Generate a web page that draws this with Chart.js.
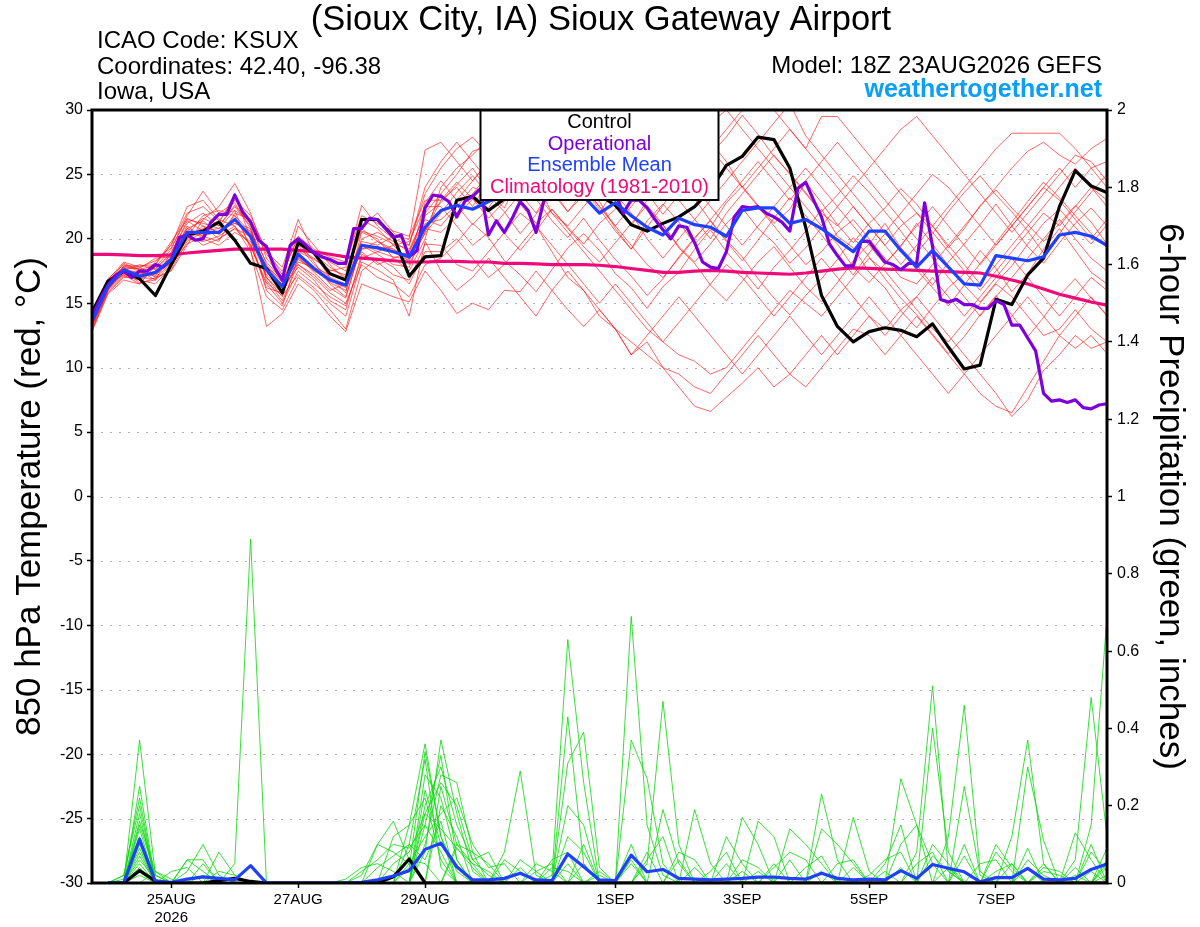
<!DOCTYPE html>
<html>
<head>
<meta charset="utf-8">
<script src="https://cdn.jsdelivr.net/npm/chart.js@4.4.1/dist/chart.umd.min.js"></script>
<style>
  html, body { margin: 0; padding: 0; background: #fff; }
  canvas { display: block; }
</style>
</head>
<body>
<canvas id="gefs" width="1200" height="927" style="width:1200px;height:927px"></canvas>
<script>
// hours after 18Z 23AUG2026; ensemble every 6 h, operational every 3 h
const tickHours = [30, 78, 126, 198, 246, 294, 342];
const tickLabels = [['25AUG', '2026'], '27AUG', '29AUG', '1SEP', '3SEP', '5SEP', '7SEP'];

// 850 hPa temperature (C), h0..h384 every 6 h
const ensMean = [13.6,16.3,17.6,17.1,17.4,18.4,20.5,20.5,20.5,21.5,20.2,17.6,16.3,18.8,17.7,16.8,16.4,19.5,19.3,19.0,18.6,20.9,
  22.2,22.6,22.3,22.9,23.4,23.6,23.8,23.6,23.4,23.3,22.0,22.8,21.8,20.9,20.3,21.6,21.1,20.9,20.2,22.2,22.4,22.4,21.2,21.5,
  20.8,19.9,19.0,20.6,20.6,19.1,17.8,19.1,17.8,16.5,16.4,18.7,18.5,18.3,18.6,20.3,20.5,20.2,19.5];
const control = [14.3,16.7,17.5,16.9,15.6,18.0,20.3,20.6,21.3,19.9,18.1,17.7,15.8,19.7,18.9,17.3,16.8,21.5,21.5,20.2,17.1,18.6,
  18.7,23.0,23.3,22.2,23.1,23.6,24.2,24.5,24.2,23.8,23.4,22.6,21.1,20.6,21.2,21.7,22.5,23.8,25.7,26.4,27.9,27.7,25.5,20.9,
  15.6,13.2,12.0,12.8,13.1,12.9,12.4,13.4,11.6,9.9,10.2,15.3,14.9,17.2,18.5,22.5,25.3,24.1,23.6];
const climatology = [18.8,18.8,18.75,18.7,18.7,18.75,18.9,19.0,19.1,19.2,19.2,19.2,19.2,19.1,19.0,18.8,18.6,18.5,18.4,18.3,18.2,18.2,
  18.25,18.25,18.2,18.2,18.1,18.1,18.05,18.0,18.0,18.0,17.95,17.85,17.7,17.55,17.4,17.4,17.5,17.55,17.5,17.4,17.35,17.3,
  17.25,17.35,17.5,17.65,17.75,17.7,17.65,17.6,17.55,17.5,17.45,17.4,17.35,17.1,16.8,16.5,16.1,15.7,15.4,15.1,14.85];
// operational GFS, h0..h384 every 3 h
const operational = [14.0,15.3,16.4,17.2,17.5,17.0,17.5,17.5, 18.0,17.8,18.4,20.1,20.3,19.9,20.0,21.3,
  21.9,21.9,23.4,22.1,21.3,19.9,19.4,17.8, 16.8,19.5,20.0,19.5,18.9,18.6,18.4,18.1,
  18.1,20.8,20.8,21.6,21.5,20.8,20.1,20.3, 18.6,19.1,22.4,23.4,23.3,22.9,21.7,22.9,
  23.3,23.9,20.3,21.4,20.5,21.6,22.9,22.2, 20.5,23.0,24.0,24.5,24.2,24.0,24.3,24.5,
  24.0,23.8,23.5,22.0,23.0,23.0,22.4,21.5, 20.7,20.0,21.0,20.9,19.7,18.2,17.8,17.7,
  19.0,21.7,22.5,22.4,22.5,22.0,21.7,21.3, 20.6,23.9,24.4,23.0,21.7,19.6,18.7,17.9,
  17.9,19.8,19.8,19.0,18.2,18.0,17.6,18.1, 18.1,22.8,19.4,15.3,15.1,15.3,14.9,14.9,
  14.6,14.6,15.2,14.9,13.3,13.3,12.3,11.3, 8.0,7.4,7.5,7.3,7.5,6.9,6.8,7.1, 7.2];
// ensemble members, h0..h384 every 6 h
const tempMembers = [
  [13.2,16.0,17.9,17.5,16.8,19.0,21.2,22.0,21.0,22.5,21.0,17.0,15.5,19.5,18.0,17.0,15.8,20.5,20.0,18.5,17.5,20.0,
   24.0,25.5,26.5,27.8,26.0,25.0,27.0,26.2,24.5,23.5,22.0,24.0,25.5,26.8,28.5,30.5,29.0,27.5,26.0,24.0,22.5,21.0,19.5,18.0,19.0,20.5,21.5,20.0,18.5,17.0,16.5,18.0,19.5,21.0,22.5,24.0,25.5,26.8,27.5,26.5,25.8,27.0,27.8],
  [13.8,16.5,17.2,16.5,17.9,18.0,20.0,19.8,20.2,21.0,19.5,16.5,15.0,17.5,16.5,15.5,14.8,18.5,19.0,19.5,19.8,22.5,
   22.5,21.0,19.5,20.5,22.0,23.5,24.5,22.0,20.5,19.0,17.5,16.0,14.5,13.0,12.0,11.0,10.5,9.5,10.0,11.5,13.0,14.5,16.0,15.0,14.0,15.5,17.0,18.5,17.5,16.0,14.5,13.0,12.0,13.5,15.0,16.5,15.5,14.0,12.5,13.0,14.5,13.0,12.0],
  [14.2,16.8,18.2,17.8,17.0,17.5,19.5,21.5,22.5,24.3,22.0,18.5,17.0,18.0,17.2,16.0,16.5,19.0,18.0,18.5,19.0,21.5,
   21.0,22.5,24.0,23.5,25.0,26.0,24.5,23.0,25.5,27.0,25.0,23.5,22.0,20.0,18.5,20.0,21.5,23.0,24.5,26.0,27.5,29.0,30.5,28.0,26.5,25.0,23.5,22.0,20.5,22.0,23.5,25.0,24.0,22.5,21.0,19.5,21.0,22.5,24.0,23.0,21.5,20.0,21.5],
  [12.9,15.8,17.0,17.0,18.2,19.5,22.5,23.0,21.5,21.0,19.0,15.5,14.5,17.0,16.0,14.5,13.0,17.5,18.5,17.8,16.5,19.0,
   19.0,20.0,18.5,17.0,18.0,19.5,21.0,19.0,17.0,16.0,14.0,13.0,11.0,12.0,10.0,8.5,7.0,6.6,7.7,8.8,10.0,8.5,9.5,11.0,12.5,11.0,12.5,14.0,13.0,14.5,15.5,14.0,12.5,11.0,9.5,8.0,6.2,7.5,9.8,11.0,12.5,11.5,12.0],
  [13.5,16.2,17.5,18.0,17.6,18.8,20.8,20.2,19.8,22.0,21.5,18.8,17.5,20.0,19.0,18.2,17.5,20.8,19.8,19.2,18.0,20.5,
   23.0,24.0,22.5,24.5,25.5,24.0,23.0,25.0,26.5,25.0,24.0,22.5,21.0,23.0,24.5,23.0,21.5,20.0,22.0,23.5,25.0,26.5,25.0,23.5,22.0,21.0,22.5,21.0,19.5,21.0,22.0,20.5,19.0,17.5,16.0,17.5,19.0,20.5,22.0,21.0,22.5,24.0,23.0],
  [14.0,16.6,17.8,16.8,16.5,17.8,20.0,21.0,20.5,21.8,20.5,17.8,16.8,21.0,19.5,18.0,16.8,21.0,22.0,20.5,19.5,23.5,
   25.5,27.0,27.9,26.5,25.0,23.5,22.0,24.0,25.5,24.0,22.5,21.0,19.5,18.0,17.0,18.5,20.0,21.5,23.0,24.5,26.0,24.5,23.0,24.5,26.0,27.5,26.0,24.5,23.0,21.5,20.0,18.5,17.0,15.5,14.0,15.5,17.0,18.5,20.0,21.5,20.0,18.5,17.5],
  [13.3,16.1,17.3,17.2,17.8,19.2,21.8,23.7,22.0,22.8,20.8,16.8,15.2,18.0,17.0,15.8,15.0,18.0,17.0,16.5,15.5,18.0,
   18.5,19.7,21.2,20.1,18.3,17.2,15.9,17.6,19.3,20.4,19.1,17.3,16.2,14.6,16.3,17.4,19.2,20.7,19.0,17.6,16.1,17.8,19.1,20.6,22.3,20.2,19.3,17.4,16.2,14.4,13.1,14.7,16.2,17.3,19.1,17.7,15.9,17.3,19.2,20.8,19.1,17.4,16.5],
  [13.7,16.4,17.6,17.4,17.2,18.2,20.2,20.8,21.2,23.5,20.0,17.2,16.0,19.2,18.5,17.5,17.8,22.6,21.0,20.0,19.5,24.0,
   26.0,27.5,26.0,24.5,23.0,24.5,26.0,27.5,29.0,28.0,26.5,25.0,27.0,29.0,31.0,30.0,28.5,27.0,28.5,30.0,31.5,30.0,28.5,27.0,29.5,29.5,28.0,26.5,25.0,23.5,22.0,21.0,22.5,24.0,25.5,27.0,28.2,28.2,28.2,28.2,27.0,25.5,24.0],
  [13.0,15.9,17.1,16.8,17.5,18.5,21.0,20.0,19.5,20.5,19.8,17.5,16.5,19.8,18.2,16.5,15.5,19.5,18.8,18.0,17.8,20.8,
   20.5,21.7,23.1,22.2,20.4,19.1,20.6,22.3,20.8,19.4,18.2,19.7,21.2,22.6,21.1,19.3,18.1,16.4,15.2,16.7,18.2,19.4,17.8,16.3,15.1,16.6,18.3,19.6,21.2,19.3,18.0,16.4,18.2,19.6,21.1,22.7,21.0,19.4,18.1,19.7,21.2,22.4,21.0],
  [14.4,16.9,18.0,17.6,18.0,19.8,21.5,21.2,20.8,21.2,20.6,18.2,16.8,18.5,17.5,16.8,16.2,20.0,20.5,19.8,19.0,22.0,
   23.5,22.0,23.5,25.0,26.5,25.0,23.5,22.0,21.0,22.5,24.0,25.5,27.0,28.5,27.0,25.5,24.0,22.5,21.0,19.5,21.0,22.5,24.0,25.5,24.0,22.5,21.0,19.5,18.0,19.5,21.0,22.5,21.0,19.5,18.0,19.5,21.0,22.5,24.0,25.5,24.0,25.5,26.0],
  [13.4,16.2,17.4,17.0,16.9,17.6,19.8,20.5,21.8,22.2,19.2,13.2,14.2,16.5,15.5,14.0,12.8,16.5,16.0,15.5,15.1,17.5,
   16.0,14.2,15.0,14.5,16.0,15.9,17.5,16.0,14.5,13.2,14.5,13.0,11.0,12.5,14.0,15.5,14.0,12.5,11.0,9.5,11.0,12.5,14.0,12.5,11.0,12.5,14.0,15.5,14.0,12.5,11.0,9.5,8.0,9.5,11.0,12.5,14.0,15.5,14.0,12.5,11.5,12.5,11.1],
  [13.9,16.5,17.7,17.7,18.5,18.6,20.6,21.6,21.0,22.6,21.2,18.0,16.6,19.5,18.8,17.8,17.0,19.8,19.5,20.2,20.0,26.9,
   27.5,26.0,24.5,26.0,27.5,26.0,24.5,23.0,24.5,26.0,27.5,29.0,30.5,29.0,27.5,26.0,27.5,29.0,30.0,28.5,27.0,25.5,24.0,22.5,21.0,22.5,24.0,25.5,27.0,28.5,29.5,28.0,26.5,25.0,23.5,22.0,20.5,22.0,23.5,25.0,26.5,26.0,24.5],
  [13.1,16.0,17.2,17.1,17.3,18.2,20.4,19.5,20.0,20.8,19.6,16.2,15.8,18.2,17.8,17.2,16.8,19.2,19.8,19.0,18.8,21.2,
   21.5,22.6,21.1,22.4,24.1,22.7,21.2,22.3,20.9,19.6,21.2,22.3,24.2,22.4,21.1,19.4,18.2,19.6,21.2,22.4,20.8,19.7,18.1,19.3,20.9,19.6,17.8,16.6,18.1,19.4,21.2,19.6,17.9,16.4,15.1,16.6,17.9,19.6,21.2,22.3,20.9,19.6,21.1],
  [13.6,16.3,17.9,17.9,18.0,19.6,22.0,22.5,21.4,23.0,21.8,19.0,17.8,21.5,18.8,17.0,16.5,21.5,20.8,19.5,18.2,22.8,
   24.5,23.0,24.5,26.0,24.5,23.0,25.0,27.0,25.5,24.0,22.5,21.0,22.5,24.0,25.5,27.0,28.5,27.0,25.5,24.0,25.5,27.0,28.5,27.0,25.5,24.0,22.5,21.0,19.5,18.0,19.5,21.0,19.5,18.0,16.5,18.0,19.5,21.0,22.5,24.0,25.5,24.0,22.5],
  [14.1,16.7,17.5,16.6,16.8,18.0,19.6,20.2,20.6,21.4,20.4,17.4,16.2,17.8,16.8,15.2,14.5,18.8,18.2,17.2,16.8,19.6,
   19.5,18.0,17.5,19.0,20.5,22.0,21.0,19.5,18.0,16.5,15.0,16.5,15.0,13.5,12.0,13.5,15.0,16.5,18.0,17.0,15.5,14.0,15.5,17.0,18.5,17.0,15.5,14.0,12.5,14.0,15.5,17.0,15.5,14.0,15.5,17.0,18.5,17.0,15.5,14.0,15.5,17.0,16.0],
  [13.3,16.0,17.6,17.3,17.1,18.7,20.8,21.4,20.3,21.6,20.0,16.0,14.8,18.6,17.4,16.2,15.4,19.6,19.0,18.6,18.4,20.4,
   22.0,23.6,24.9,23.4,22.1,20.4,21.9,23.6,22.1,23.4,25.1,26.4,24.9,23.6,21.9,23.4,25.2,26.6,27.9,29.6,28.1,26.4,25.1,23.6,22.1,23.4,24.9,23.6,22.1,20.6,18.9,20.4,22.1,23.6,24.9,23.4,22.1,20.6,18.9,20.4,22.1,23.6,25.0],
  [13.8,16.6,18.1,17.6,17.7,18.9,21.4,20.6,20.8,22.2,21.4,19.2,17.2,20.2,19.2,18.6,18.2,21.8,21.2,20.6,20.2,23.0,
   23.0,24.4,23.1,21.6,22.9,24.6,23.1,21.4,20.1,21.6,19.9,18.4,17.1,15.6,16.9,18.6,20.1,21.4,19.9,18.6,16.9,15.4,14.1,15.6,16.9,18.4,20.1,18.6,16.9,15.4,14.1,12.6,11.1,12.4,14.1,15.6,14.1,12.4,13.9,15.6,16.9,15.4,14.1],
  [12.8,15.7,16.8,16.5,17.0,18.1,20.2,21.8,22.2,21.8,19.4,16.6,15.6,17.2,16.2,15.0,14.0,18.2,17.6,16.8,14.0,19.8,
   17.5,16.0,17.0,18.5,17.0,15.5,14.0,16.0,17.5,16.0,14.5,13.0,12.0,11.0,10.0,9.5,8.5,8.0,9.5,11.0,12.5,11.0,9.5,8.5,10.0,11.5,13.0,12.5,11.0,12.5,14.0,12.5,11.0,9.5,8.0,7.0,6.5,8.5,10.5,12.5,14.0,15.5,14.0],
  [14.3,16.8,17.8,17.8,18.3,19.3,21.6,21.0,20.0,20.8,20.2,17.9,16.4,19.0,18.4,17.6,17.2,20.6,20.2,19.6,19.2,21.8,
   22.8,24.2,25.5,23.6,22.4,24.8,25.2,23.9,22.1,23.7,22.9,20.8,19.2,21.4,22.7,21.3,19.6,20.9,22.8,24.1,22.6,21.2,22.3,24.4,22.8,21.1,19.7,21.2,22.4,23.9,22.7,21.0,19.3,20.8,22.6,23.8,22.4,21.1,19.8,21.2,22.6,21.3,19.6],
  [13.5,16.2,17.3,17.0,17.4,18.3,20.3,20.3,20.6,21.2,20.8,17.0,15.8,18.4,17.6,16.6,16.0,19.2,19.4,19.2,18.6,20.6,
   23.5,25.0,26.8,27.2,25.6,24.2,25.8,26.9,25.1,23.8,22.3,20.6,19.2,20.9,22.6,24.3,23.1,21.4,19.8,18.3,19.9,21.6,23.2,21.8,20.3,18.7,17.2,18.9,20.4,19.1,17.6,16.2,14.8,16.4,18.1,19.7,21.3,22.9,24.4,23.2,21.8,20.4,19.3]
];

// 6-hour precipitation (inches), h6..h384 every 6 h
const meanPrecip = [0,0,.113,.004,.002,.01,.016,.012, .008,.045,0,0,0,0,0,0,
  .002,.008,.018,.032,.087,.103,.042,.008, .008,.012,.025,.008,.006,.075,.042,.008,
  .006,.072,.029,.035,.012,.01,.008,.01, .012,.015,.015,.012,.01,.025,.012,.008,
  .01,.008,.032,.012,.048,.038,.029,.003, .014,.014,.038,.01,.008,.012,.035,.049];
const ctrlPrecip = [0,0,.032,.005,0,0,0,.006, .012,.004,0,0,0,0,0,0,
  0,0,.016,.062,0,0,0,0, 0,0,0,0,0,0,0,0, 0,0,0,0,0,0,0,0, 0,0,0,0,0,0,0,0,
  0,0,0,0,0,0,0,0, 0,0,0,0,0,0,0,0];
const precipMembers = [
  [0,0,.37,.02,0,0,0,0, 0,0,0,0,0,0,0,0, 0,0,0,.15,.36,.12,.03,0, 0,0,0,0,0,0,0,0, 0,.69,.15,.02,0,0,0,0, 0,0,0,0,0,0,0,0, 0,0,0,0,0,0,0,0, 0,0,.09,0,0,0,.15,.69],
  [0,.02,.22,0,0,0,0,0, .05,.89,0,0,0,0,0,0, 0,0,0,0,.08,.37,.18,.03, 0,0,0,0,.02,.63,.26,0, 0,0,0,0,0,0,0,0, 0,0,0,0,0,.23,.06,0, 0,0,0,.08,.51,.03,0,0, 0,0,0,0,0,0,0,0],
  [0,0,.18,0,0,.03,.1,.02, 0,0,0,0,0,0,0,0, 0,0,0,.04,.34,.12,0,0, 0,0,0,0,0,.43,.05,0, 0,0,.05,.47,.1,0,0,0, 0,0,0,0,0,0,0,0, 0,0,0,0,0,.12,.46,.03, 0,0,0,0,0,0,0,0],
  [0,0,.16,.03,0,0,0,0, 0,0,0,0,0,0,0,0, 0,.1,.16,.06,.05,0,0,0, 0,.08,.29,.02,0,0,0,0, 0,.37,.27,.05,0,0,0,0, .17,.1,0,0,0,0,0,0, 0,0,0,0,0,0,0,0, 0,.12,.37,.05,0,0,0,0],
  [0,0,.14,0,0,.06,.03,0, 0,0,0,0,0,0,0,0, 0,0,0,0,.1,.28,.26,.08, 0,0,0,0,0,.31,.39,.04, 0,0,0,0,0,.19,.05,0, 0,0,0,0,0,0,0,0, 0,0,.27,.15,0,0,0,0, 0,0,0,0,0,.06,.48,.12],
  [0,.01,.12,0,0,0,0,.08, .02,0,0,0,0,0,0,0, 0,0,0,0,0,.25,.1,.05, 0,0,0,0,0,.2,.15,0, 0,0,0,.19,.05,0,0,0, 0,0,0,.14,.1,.05,0,0, 0,0,0,0,.4,.08,0,0, 0,0,.3,.11,0,0,0,0],
  [0,0,.1,0,0,0,0,0, 0,0,0,0,0,0,0,0, 0,0,.12,.15,.22,.06,0,0, 0,0,0,0,.06,.08,0,0, 0,0,0,0,0,0,0,.12, .05,0,0,0,0,0,0,.17, .03,0,0,0,0,0,.25,.02, 0,0,0,0,0,0,0,.09],
  [0,0,.09,0,.03,.04,0,0, 0,0,0,0,0,0,0,0, .03,.06,.1,.09,.15,.08,0,0, 0,0,0,.05,.03,0,0,0, 0,0,0,0,0,0,0,0, 0,.16,.12,0,0,0,0,0, 0,0,.1,.15,.05,0,0,0, .1,.04,0,0,0,.13,.06,0],
  [0,0,.08,0,0,0,.05,0, 0,0,0,0,0,0,0,0, 0,0,0,0,.2,.3,.15,.06, .08,0,0,0,0,0,0,0, 0,.1,0,0,0,0,0,0, 0,0,0,0,0,.14,.1,.05, 0,0,0,0,0,0,.1,0, 0,0,0,0,0,0,0,.05],
  [0,0,.07,0,0,0,0,0, 0,0,0,0,0,0,0,0, 0,0,0,.05,.12,.18,.22,.1, .04,.05,0,0,0,0,.05,0, 0,0,0,0,.08,.06,0,0, 0,0,0,.06,0,0,0,0, 0,0,0,0,.1,.05,0,0, .08,.03,0,.05,0,0,0,0],
  [0,0,.06,.01,0,0,0,.03, .02,0,0,0,0,0,0,0, 0,0,0,0,.28,.22,.06,0, 0,0,0,0,0,.12,.08,0, 0,0,0,0,0,0,0,.05, 0,0,0,0,0,0,0,0, 0,.05,.15,0,0,0,0,0, 0,0,.06,.02,0,0,.03,0],
  [0,0,.05,0,0,0,0,0, 0,0,0,0,0,0,0,0, 0,0,.05,.08,.18,.14,.09,.04, 0,.06,.03,0,0,0,0,0, 0,0,.06,.12,0,0,0,0, 0,0,.04,.08,.06,0,0,0, 0,0,0,0,.07,.03,0,0, 0,0,0,0,0,.04,0,.06],
  [0,0,.04,0,0,.06,.06,0, 0,0,0,0,0,0,0,0, .02,.1,.08,.05,0,0,.09,.05, .03,0,0,0,0,0,0,.03, 0,0,0,0,0,0,0,0, .06,.04,0,0,0,0,0,0, .02,.06,.08,0,0,0,0,0, 0,.05,0,0,0,0,0,0],
  [0,0,.03,0,0,0,0,0, 0,0,0,0,0,0,0,0, 0,0,0,0,.24,.1,.04,0, 0,0,0,0,.04,.03,0,0, 0,0,0,0,0,0,.03,.08, 0,0,0,0,0,0,.05,.06, 0,0,0,0,0,0,0,.05, .06,0,0,0,0,0,.08,.03],
  [0,0,.02,0,0,0,0,0, 0,0,0,0,0,0,0,0, 0,0,0,.1,.06,.16,0,0, 0,0,.04,0,0,0,0,0, 0,.05,0,0,0,0,0,0, 0,0,0,0,.04,.07,0,0, 0,0,0,.05,.08,0,0,0, 0,0,0,.03,.02,0,0,0],
  [0,.02,.2,0,0,0,0,0, 0,0,0,0,0,0,0,0, 0,0,0,0,0,.2,.12,0, 0,0,0,0,0,0,.1,0, 0,0,.08,0,0,0,0,0, 0,0,.05,0,0,0,0,0, 0,0,0,0,0,0,.07,0, 0,0,.04,0,0,0,0,.02],
  [0,0,.25,0,0,0,0,0, 0,0,0,0,0,0,0,0, 0,.04,.07,.1,.32,.04,0,0, 0,0,0,0,0,.05,0,0, 0,0,0,0,.06,0,0,0, 0,0,0,0,0,.03,0,0, 0,0,0,0,0,.04,0,0, 0,0,0,0,0,.02,0,0],
  [0,0,.15,.02,0,0,.02,0, 0,0,0,0,0,0,0,0, 0,0,0,0,.15,.33,.06,0, 0,0,0,.03,.05,0,0,0, 0,0,0,0,0,.04,0,0, 0,0,0,0,0,0,0,.04, 0,0,0,0,0,0,0,0, .03,.05,0,0,0,0,0,0],
  [0,0,.11,0,0,0,0,0, 0,0,0,0,0,0,0,0, 0,0,0,0,.18,.26,.2,.06, .02,0,0,0,0,0,0,.02, 0,0,0,0,0,0,0,0, .03,0,0,0,0,0,0,0, 0,0,.04,0,0,0,0,0, 0,0,0,0,0,0,.1,0],
  [0,0,0,.03,.01,0,0,0, 0,0,0,0,0,0,0,.01, .04,.05,.03,0,0,0,.1,.08, .05,0,.06,.03,0,0,0,0, 0,.06,0,0,0,0,0,0, 0,.03,0,0,0,0,0,0, 0,.03,0,0,0,0,0,0, 0,0,0,.04,.03,0,0,.04]
];

const FONT = "'Liberation Sans', Arial, Helvetica, sans-serif";
const PURPLE = '#7d00dc';
const BLUE = '#2040ff';
const PINK = '#ef0a7b';

Chart.defaults.font.family = FONT;
Chart.defaults.color = '#000';

// turn a value list into {x: hour, y: value} points
function toPoints(vals, start, step) {
  return vals.map((v, i) => ({ x: start + i * step, y: v }));
}

function line(label, vals, start, step, axis, color, width, order) {
  return {
    label: label,
    data: toPoints(vals, start, step),
    yAxisID: axis,
    borderColor: color,
    borderWidth: width,
    order: order,
    pointRadius: 0,
    tension: 0,
    fill: false,
    borderJoinStyle: 'round'
  };
}

const datasets = [
  line('Ensemble Mean', ensMean, 0, 6, 'y', BLUE, 3.2, 0),
  line('Operational', operational, 0, 3, 'y', PURPLE, 3.2, 1),
  line('Control', control, 0, 6, 'y', '#000', 3.2, 2),
  line('Climatology', climatology, 0, 6, 'y', PINK, 3.2, 3),
  line('Mean precip', meanPrecip, 6, 6, 'y1', BLUE, 3.2, 4),
  line('Control precip', ctrlPrecip, 6, 6, 'y1', '#000', 3.2, 5)
];
tempMembers.forEach((m, k) => {
  datasets.push(line('T member ' + (k + 1), m, 0, 6, 'y', 'rgba(255,20,20,0.72)', 0.9, 10));
});
precipMembers.forEach((m, k) => {
  datasets.push(line('P member ' + (k + 1), m, 6, 6, 'y1', 'rgba(10,215,10,0.9)', 0.9, 11));
});

const decor = {
  id: 'decor',
  beforeDatasetsDraw(chart) {
    // dotted grid at every temperature tick
    const { ctx, chartArea: a } = chart;
    const y = chart.scales.y;
    ctx.save();
    ctx.strokeStyle = '#b0b0b0';
    ctx.lineWidth = 1;
    ctx.setLineDash([2, 7]);
    y.ticks.forEach(t => {
      if (t.value <= y.min || t.value >= y.max) return;
      const py = Math.round(y.getPixelForValue(t.value)) + 0.5;
      ctx.beginPath();
      ctx.moveTo(a.left, py);
      ctx.lineTo(a.right, py);
      ctx.stroke();
    });
    ctx.restore();
  },
  afterDatasetsDraw(chart) {
    const { ctx, chartArea: a } = chart;
    ctx.save();
    // legend box
    const cx = (a.left + a.right) / 2;
    const bw = 238, bh = 90;
    ctx.fillStyle = '#fff';
    ctx.fillRect(cx - bw / 2, a.top, bw, bh);
    ctx.strokeStyle = '#000';
    ctx.lineWidth = 2;
    ctx.strokeRect(cx - bw / 2, a.top, bw, bh);
    ctx.font = '20px ' + FONT;
    ctx.textAlign = 'center';
    ctx.textBaseline = 'alphabetic';
    const rows = [['Control', '#000'], ['Operational', PURPLE], ['Ensemble Mean', BLUE], ['Climatology (1981-2010)', PINK]];
    rows.forEach((r, i) => {
      ctx.fillStyle = r[1];
      ctx.fillText(r[0], cx, a.top + 18 + i * 21.5);
    });
    // frame
    ctx.lineWidth = 3;
    ctx.strokeRect(a.left, a.top, a.right - a.left, a.bottom - a.top);
    ctx.restore();
  },
  afterDraw(chart) {
    const ctx = chart.ctx;
    ctx.save();
    ctx.fillStyle = '#000';
    ctx.textBaseline = 'alphabetic';
    ctx.textAlign = 'center';
    ctx.font = '34.5px ' + FONT;
    ctx.fillText('(Sioux City, IA) Sioux Gateway Airport', 601, 30);
    ctx.textAlign = 'left';
    ctx.font = '24px ' + FONT;
    ctx.fillText('ICAO Code: KSUX', 97, 48);
    ctx.fillText('Coordinates: 42.40, -96.38', 97, 74);
    ctx.fillText('Iowa, USA', 97, 99);
    ctx.textAlign = 'right';
    ctx.fillText('Model: 18Z 23AUG2026 GEFS', 1102, 73);
    ctx.fillStyle = '#0aa0f5';
    ctx.font = 'bold 25px ' + FONT;
    ctx.fillText('weathertogether.net', 1102, 97);
    ctx.restore();
  }
};

new Chart(document.getElementById('gefs').getContext('2d'), {
  type: 'line',
  data: { datasets: datasets },
  options: {
    responsive: false,
    animation: false,
    devicePixelRatio: 1,
    layout: { padding: { top: 110, left: 0, right: 0, bottom: 0 } },
    plugins: { legend: { display: false }, tooltip: { enabled: false } },
    scales: {
      x: {
        type: 'linear',
        min: 0,
        max: 384,
        afterBuildTicks: s => { s.ticks = tickHours.map(h => ({ value: h })); },
        afterFit: s => { s.height = 44; },
        ticks: {
          autoSkip: false,
          maxRotation: 0,
          padding: 3,
          font: { size: 15 },
          callback: (v, i) => tickLabels[i]
        },
        grid: { drawOnChartArea: false, tickLength: 5, tickColor: '#000', tickWidth: 1.5 },
        border: { display: false }
      },
      y: {
        position: 'left',
        min: -30,
        max: 30,
        afterFit: s => { s.width = 92; },
        ticks: { stepSize: 5, padding: 4, font: { size: 16 } },
        grid: { drawOnChartArea: false, tickLength: 5, tickColor: '#000', tickWidth: 1.5 },
        border: { display: false },
        title: {
          display: true,
          text: '850 hPa Temperature (red, \u00B0C)',
          font: { size: 35 },
          padding: { top: 9, bottom: 0 }
        }
      },
      y1: {
        position: 'right',
        min: 0,
        max: 2,
        afterFit: s => { s.width = 93; },
        ticks: { stepSize: 0.2, padding: 5, font: { size: 16 }, callback: v => String(+v.toFixed(1)) },
        grid: { drawOnChartArea: false, tickLength: 5, tickColor: '#000', tickWidth: 1.5 },
        border: { display: false },
        title: {
          display: true,
          text: '6-hour Precipitation (green, inches)',
          font: { size: 35 },
          padding: { top: 9, bottom: 0 }
        }
      }
    }
  },
  plugins: [decor]
});
</script>
</body>
</html>
